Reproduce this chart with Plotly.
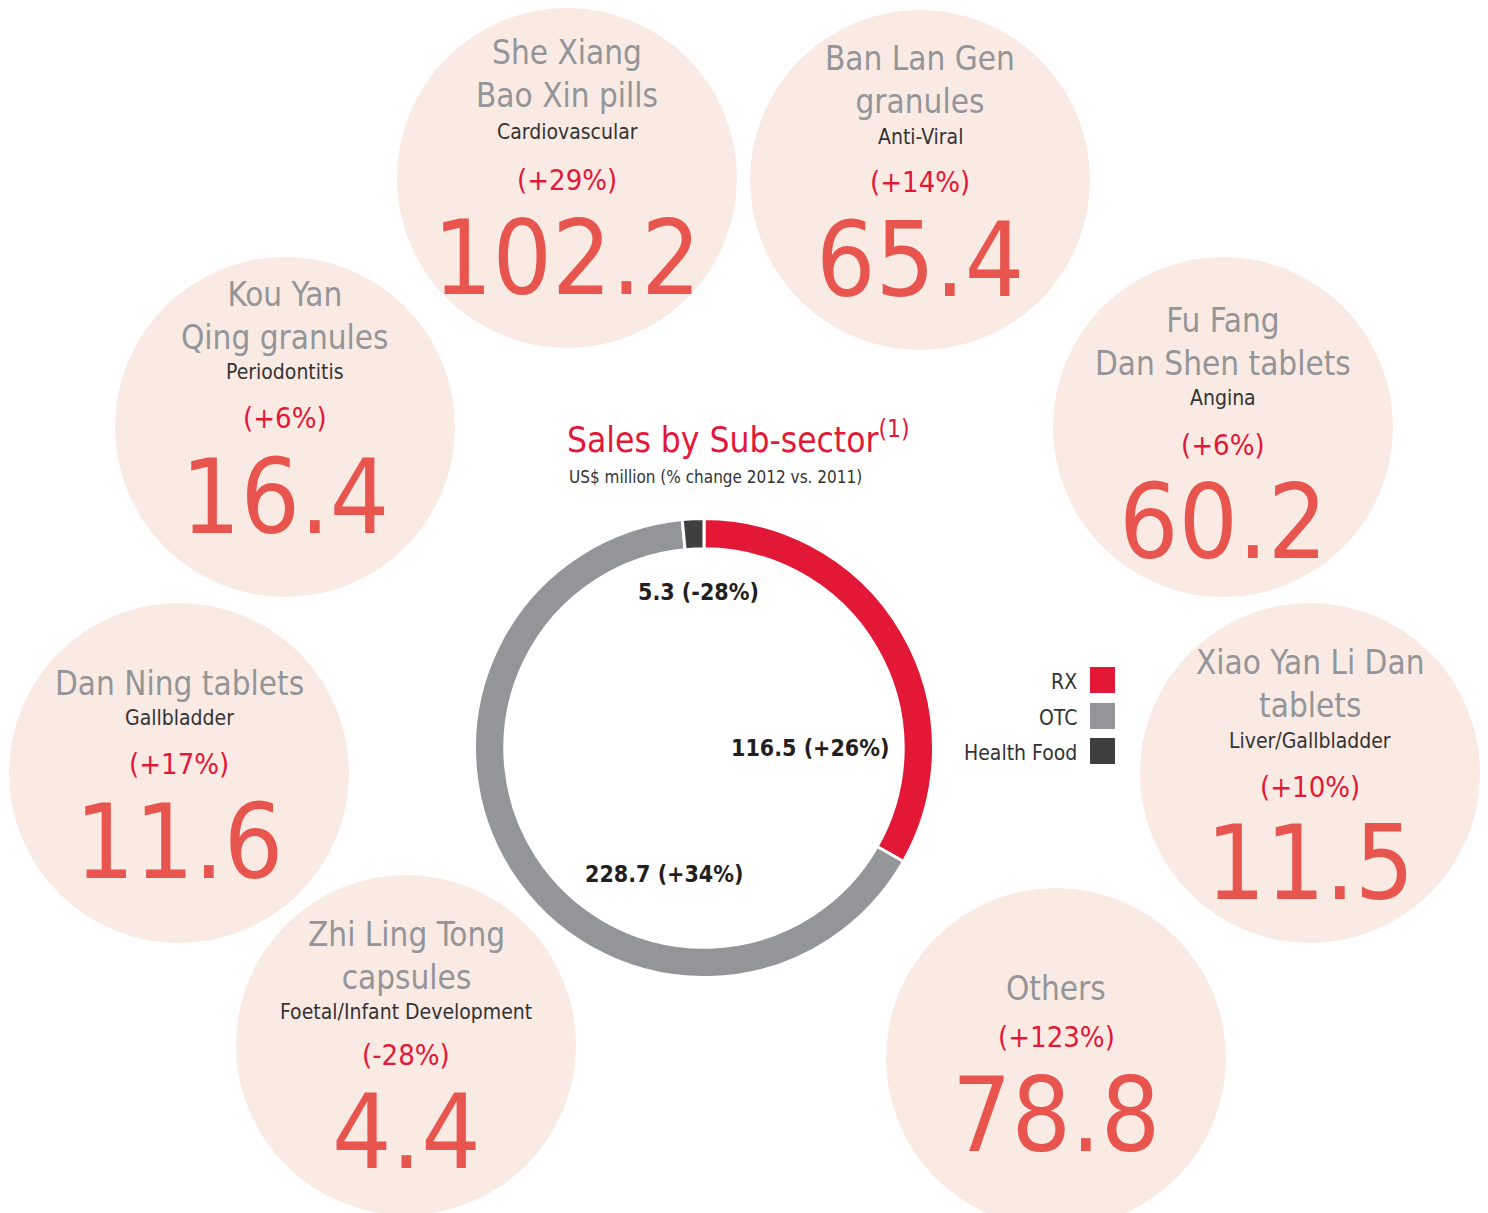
import plotly.graph_objects as go

# ---------------- data ----------------
sector_labels = ["RX", "OTC", "Health Food"]
sector_values = [116.5, 228.7, 5.3]
sector_changes = ["+26%", "+34%", "-28%"]

product_names = [
    "She Xiang<br>Bao Xin pills",
    "Ban Lan Gen<br>granules",
    "Fu Fang<br>Dan Shen tablets",
    "Xiao Yan Li Dan<br>tablets",
    "Others",
    "Zhi Ling Tong<br>capsules",
    "Dan Ning tablets",
    "Kou Yan<br>Qing granules",
]
product_categories = [
    "Cardiovascular", "Anti-Viral", "Angina", "Liver/Gallbladder",
    "", "Foetal/Infant Development", "Gallbladder", "Periodontitis",
]
product_changes = ["+29%", "+14%", "+6%", "+10%", "+123%", "-28%", "+17%", "+6%"]
product_values = [102.2, 65.4, 60.2, 11.5, 78.8, 4.4, 11.6, 16.4]

# ---------------- layout (pixel positions in the page) ----------------
W, H = 1488, 1213
OFF = 8  # default page body margin
FW, FH = W - OFF, H - OFF

circle_centers = [(567, 178), (920, 180), (1223, 427), (1310, 773),
                  (1056, 1058), (406, 1045), (179, 773), (285, 427)]
circle_r = 170
# y of: name block centre, category, change, big number
text_y = [(74, 132, 180, 258), (80, 137, 182, 260), (342, 398, 445, 522),
          (684, 741, 787, 863), (988, None, 1037, 1115), (956, 1012, 1055, 1132),
          (683, 718, 764, 842), (316, 372, 418, 497)]

FONT = "Liberation Sans Narrow, DejaVu Sans Condensed, Arial Narrow, sans-serif"
RED = "#E31837"
NUMRED = "#E8554F"
GREY = "#939598"
DARK = "#333333"
PINK = "#FAEAE4"
seg_colors = [RED, GREY, "#3F3F3F"]

fig = go.Figure()

# donut
dcx, dcy, dr = 704, 748, 229.5
fig.add_trace(go.Pie(
    labels=sector_labels, values=sector_values, sort=False,
    direction="clockwise", rotation=0, hole=0.868,
    marker=dict(colors=seg_colors, line=dict(color="white", width=3)),
    textinfo="none", hoverinfo="label+value", showlegend=False,
    domain=dict(x=[(dcx - dr - OFF) / FW, (dcx + dr - OFF) / FW],
                y=[(H - dcy - dr) / FH, (H - dcy + dr) / FH]),
))

shapes = []
annotations = []
for i, (cx, cy) in enumerate(circle_centers):
    shapes.append(dict(type="circle", xref="x", yref="y", layer="below",
                       x0=cx - circle_r, x1=cx + circle_r,
                       y0=cy - circle_r, y1=cy + circle_r,
                       fillcolor=PINK, line=dict(width=0)))
    ny, cyy, chy, vy = text_y[i]
    annotations.append(dict(x=cx, y=ny, text=product_names[i], showarrow=False,
                            font=dict(family=FONT, size=33, color=GREY),
                            xanchor="center", yanchor="middle"))
    if product_categories[i]:
        annotations.append(dict(x=cx, y=cyy, text=product_categories[i], showarrow=False,
                                font=dict(family=FONT, size=21, color=DARK),
                                xanchor="center", yanchor="middle"))
    annotations.append(dict(x=cx, y=chy, text=f"({product_changes[i]})", showarrow=False,
                            font=dict(family=FONT, size=29, color=RED),
                            xanchor="center", yanchor="middle"))
    annotations.append(dict(x=cx, y=vy, text=f"{product_values[i]}", showarrow=False,
                            font=dict(family=FONT, size=104, color=NUMRED),
                            xanchor="center", yanchor="middle"))

# title
annotations.append(dict(x=738, y=437, text="Sales by Sub-sector<sup>(1)</sup>", showarrow=False,
                        font=dict(family=FONT, size=35, color=RED),
                        xanchor="center", yanchor="middle"))
annotations.append(dict(x=715, y=477, text="US$ million (% change 2012 vs. 2011)", showarrow=False,
                        font=dict(family=FONT, size=17, color=DARK),
                        xanchor="center", yanchor="middle"))

# donut value labels
label_pos = [(810, 748), (664, 874), (698, 592)]
for i, (lx, ly) in enumerate(label_pos):
    annotations.append(dict(x=lx, y=ly,
                            text=f"<b>{sector_values[i]} ({sector_changes[i]})</b>",
                            showarrow=False,
                            font=dict(family=FONT, size=23, color="#231F20"),
                            xanchor="center", yanchor="middle"))

# legend
leg_y = [680, 716, 751]
for i, ly in enumerate(leg_y):
    shapes.append(dict(type="rect", xref="x", yref="y", x0=1090, x1=1115,
                       y0=ly - 13, y1=ly + 13, fillcolor=seg_colors[i], line=dict(width=0)))
    annotations.append(dict(x=1079, y=ly + 2, text=sector_labels[i], showarrow=False,
                            font=dict(family=FONT, size=21, color=DARK),
                            xanchor="right", yanchor="middle"))

fig.update_layout(
    width=FW, height=FH, margin=dict(l=0, r=0, t=0, b=0),
    paper_bgcolor="white", plot_bgcolor="white",
    xaxis=dict(range=[OFF, W], visible=False, fixedrange=True),
    yaxis=dict(range=[H, OFF], visible=False, fixedrange=True),
    shapes=shapes, annotations=annotations, showlegend=False,
)

fig.write_html("out.html")
